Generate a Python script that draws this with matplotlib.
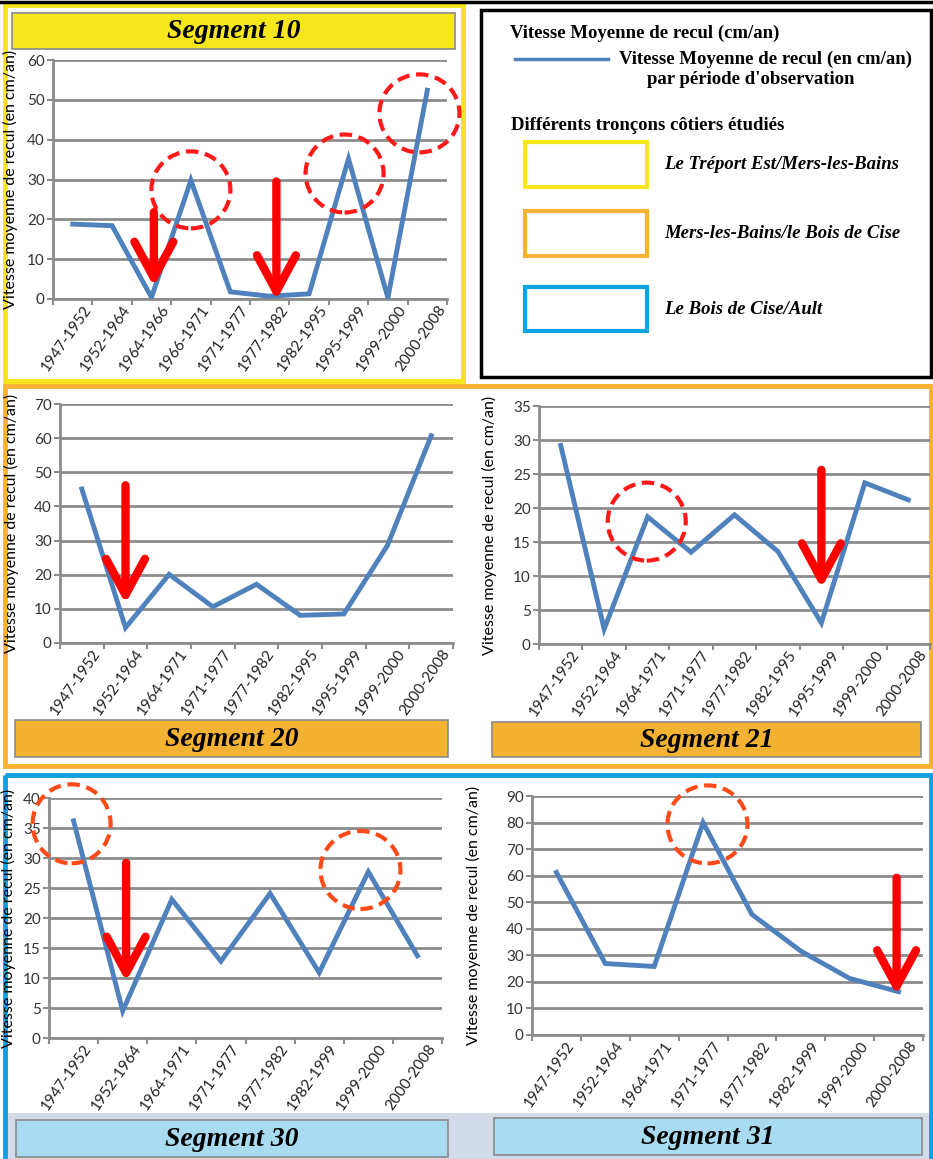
import matplotlib
matplotlib.use("Agg")
import matplotlib.pyplot as plt
from matplotlib.patches import Rectangle, Ellipse
from matplotlib.transforms import ScaledTranslation

# vitesse moyenne de recul (cm/an) par période, pour chaque segment
periodes_10 = ['1947-1952', '1952-1964', '1964-1966', '1966-1971', '1971-1977',
               '1977-1982', '1982-1995', '1995-1999', '1999-2000', '2000-2008']
vitesse_10 = [18.8, 18.4, 0.4, 29.8, 1.8, 0.7, 1.3, 35.2, 0.3, 52.4]

periodes_2x = ['1947-1952', '1952-1964', '1964-1971', '1971-1977', '1977-1982',
               '1982-1995', '1995-1999', '1999-2000', '2000-2008']
vitesse_20 = [45.1, 4.5, 20.1, 10.6, 17.2, 8.1, 8.5, 28.6, 60.7]
vitesse_21 = [29.2, 2.2, 18.7, 13.5, 19.0, 13.6, 3.1, 23.7, 21.2]

periodes_3x = ['1947-1952', '1952-1964', '1964-1971', '1971-1977', '1977-1982',
               '1982-1999', '1999-2000', '2000-2008']
vitesse_30 = [36.2, 4.5, 23.1, 12.8, 24.1, 10.9, 27.7, 13.7]
vitesse_31 = [61.2, 26.9, 25.8, 80.0, 45.4, 31.6, 21.3, 16.3]

W, H = 933, 1159
BLEU = '#4f81bd'
GRIS = '#8c8c8c'
SANS = 'Lato'
SERIF = 'Liberation Serif'

fig = plt.figure(figsize=(W / 100, H / 100), dpi=100)

# calque de fond en pixels pour les cadres et la légende
bg = fig.add_axes([0, 0, 1, 1])
bg.set_xlim(0, W)
bg.set_ylim(H, 0)
bg.axis('off')


def cadre(x0, y0, x1, y1, couleur, lw, fond='none', z=1):
    bg.add_patch(Rectangle((x0, y0), x1 - x0, y1 - y0, fill=(fond != 'none'),
                           facecolor=fond, edgecolor=couleur, lw=lw, zorder=z))


def titre(x0, y0, x1, y1, fond, texte):
    cadre(x0, y0, x1, y1, '#8a8a8a', 1.2, fond=fond, z=2)
    bg.text((x0 + x1) / 2, (y0 + y1) / 2 + 1, texte, ha='center', va='center',
            family=SERIF, fontweight='bold', style='italic', fontsize=20, zorder=3)


# ligne noire en haut
bg.plot([0, W], [1.5, 1.5], color='black', lw=2.5)

# cadres des tronçons
cadre(5, 5, 463, 381, '#f7e51b', 3.5)
cadre(5, 386, 931, 766, '#f7b232', 3.5)
bg.add_patch(Rectangle((7, 1113), 922, 50, facecolor='#d4dbe8', edgecolor='none', zorder=0))
cadre(5, 775, 931, 1170, '#12a0e0', 3.5)

titre(12, 13, 455, 49, '#f5e61d', 'Segment 10')
titre(15, 720, 448, 757, '#f4b232', 'Segment 20')
titre(492, 722, 921, 757, '#f4b232', 'Segment 21')
titre(16, 1120, 448, 1157, '#a8daf0', 'Segment 30')
titre(494, 1118, 922, 1155, '#a8daf0', 'Segment 31')

# légende
cadre(481, 10, 931, 377, 'black', 2.5)
bg.text(510, 33, 'Vitesse Moyenne de recul (cm/an)', ha='left', va='center',
        family=SERIF, fontweight='bold', fontsize=13.5)
bg.plot([515, 608], [59, 59], color=BLEU, lw=2.5)
bg.text(619, 59, 'Vitesse Moyenne de recul (en cm/an)', ha='left', va='center',
        family=SERIF, fontweight='bold', fontsize=13.5)
bg.text(751, 79, "par période d'observation", ha='center', va='center',
        family=SERIF, fontweight='bold', fontsize=13.5)
bg.text(511, 126, 'Différents tronçons côtiers étudiés', ha='left', va='center',
        family=SERIF, fontweight='bold', fontsize=13.5)
troncons = [('#f8e71c', 142, 187, 'Le Tréport Est/Mers-les-Bains'),
            ('#f6b234', 211, 256, 'Mers-les-Bains/le Bois de Cise'),
            ('#10a3e3', 287, 331, 'Le Bois de Cise/Ault')]
for coul, ya, yb, nom in troncons:
    cadre(525, ya, 647, yb, coul, 3)
    bg.text(664, (ya + yb) / 2, nom, ha='left', va='center', family=SERIF,
            fontweight='bold', style='italic', fontsize=13.5)


def graphe(px, periodes, valeurs, ymax, pas, ylab_x):
    x0, y0, x1, y1 = px
    ax = fig.add_axes([x0 / W, 1 - y1 / H, (x1 - x0) / W, (y1 - y0) / H])
    ax.set_facecolor('none')
    n = len(periodes)
    ax.plot(range(n), valeurs, color=BLEU, lw=3.5, solid_joinstyle='miter', zorder=3)
    ax.set_xlim(-0.5, n - 0.5)
    ax.set_ylim(0, ymax)
    ax.set_yticks(range(0, ymax + 1, pas))
    ax.yaxis.grid(True, color=GRIS, lw=2)
    ax.set_axisbelow(True)
    for s in ('top', 'right'):
        ax.spines[s].set_visible(False)
    for s in ('left', 'bottom'):
        ax.spines[s].set_color(GRIS)
        ax.spines[s].set_linewidth(2)
    ax.set_xticks(range(n))
    ax.set_xticks([i - 0.5 for i in range(n + 1)], minor=True)
    ax.tick_params(axis='x', which='major', length=0, pad=3)
    ax.tick_params(axis='x', which='minor', length=4, width=1.5, color=GRIS)
    ax.tick_params(axis='y', length=4, width=1.5, color=GRIS, pad=2,
                   labelsize=11, labelcolor='#333333')
    ax.set_xticklabels(periodes, rotation=55, ha='right', va='top',
                       rotation_mode='anchor', fontsize=11, family=SANS, color='#222222')
    decal = ScaledTranslation(7 / 72, 0, fig.dpi_scale_trans)
    for lab in ax.get_xticklabels():
        lab.set_transform(lab.get_transform() + decal)
    for lab in ax.get_yticklabels():
        lab.set_family(SANS)
    ax.set_ylabel('Vitesse moyenne de recul (en cm/an)', family=SANS, fontsize=11.5)
    ax.yaxis.set_label_coords((ylab_x - x0) / (x1 - x0), 0.5)
    return ax


def cercle(ax, xi, yv, w_px, h_px, couleur='#ff1a1a'):
    bb = ax.get_position()
    x_lo, x_hi = ax.get_xlim()
    y_lo, y_hi = ax.get_ylim()
    w = w_px / (bb.width * W) * (x_hi - x_lo)
    h = h_px / (bb.height * H) * (y_hi - y_lo)
    ax.add_patch(Ellipse((xi, yv), w, h, fill=False, edgecolor=couleur, lw=3,
                         linestyle=(0, (3, 1.6)), clip_on=False, zorder=5))


def fleche(ax, xi, haut, pointe):
    ax.annotate('', xy=(xi, pointe), xytext=(xi, haut),
                arrowprops=dict(arrowstyle='->,head_length=26,head_width=14',
                                mutation_scale=1, color='#ff0000', lw=6,
                                shrinkA=0, shrinkB=0), annotation_clip=False, zorder=6)


ax10 = graphe((53, 60, 447, 299), periodes_10, vitesse_10, 60, 10, 18)
cercle(ax10, 3.0, 27.4, 79, 77)
cercle(ax10, 6.9, 31.5, 78, 78)
cercle(ax10, 8.8, 46.6, 80, 78)
fleche(ax10, 2.06, 21.8, 3.1)
fleche(ax10, 5.17, 29.5, -0.3)

ax20 = graphe((60, 404, 453, 643), periodes_2x, vitesse_20, 70, 10, 19)
fleche(ax20, 1.0, 46.2, 11.5)

ax21 = graphe((539, 406, 930, 644), periodes_2x, vitesse_21, 35, 5, 497)
cercle(ax21, 1.98, 18.0, 78, 78)
fleche(ax21, 6.0, 25.6, 8.2)

ax30 = graphe((49, 798, 442, 1038), periodes_3x, vitesse_30, 40, 5, 16)
cercle(ax30, -0.04, 35.7, 78, 79, '#ff4a1a')
cercle(ax30, 5.84, 28.0, 80, 78, '#ff4a1a')
fleche(ax30, 1.07, 29.2, 9.4)

ax31 = graphe((532, 796, 923, 1035), periodes_3x, vitesse_31, 90, 10, 481)
cercle(ax31, 3.09, 79.3, 80, 78, '#ff4a1a')
fleche(ax31, 6.96, 59.2, 15.0)

fig.savefig('out.png', dpi=100)
